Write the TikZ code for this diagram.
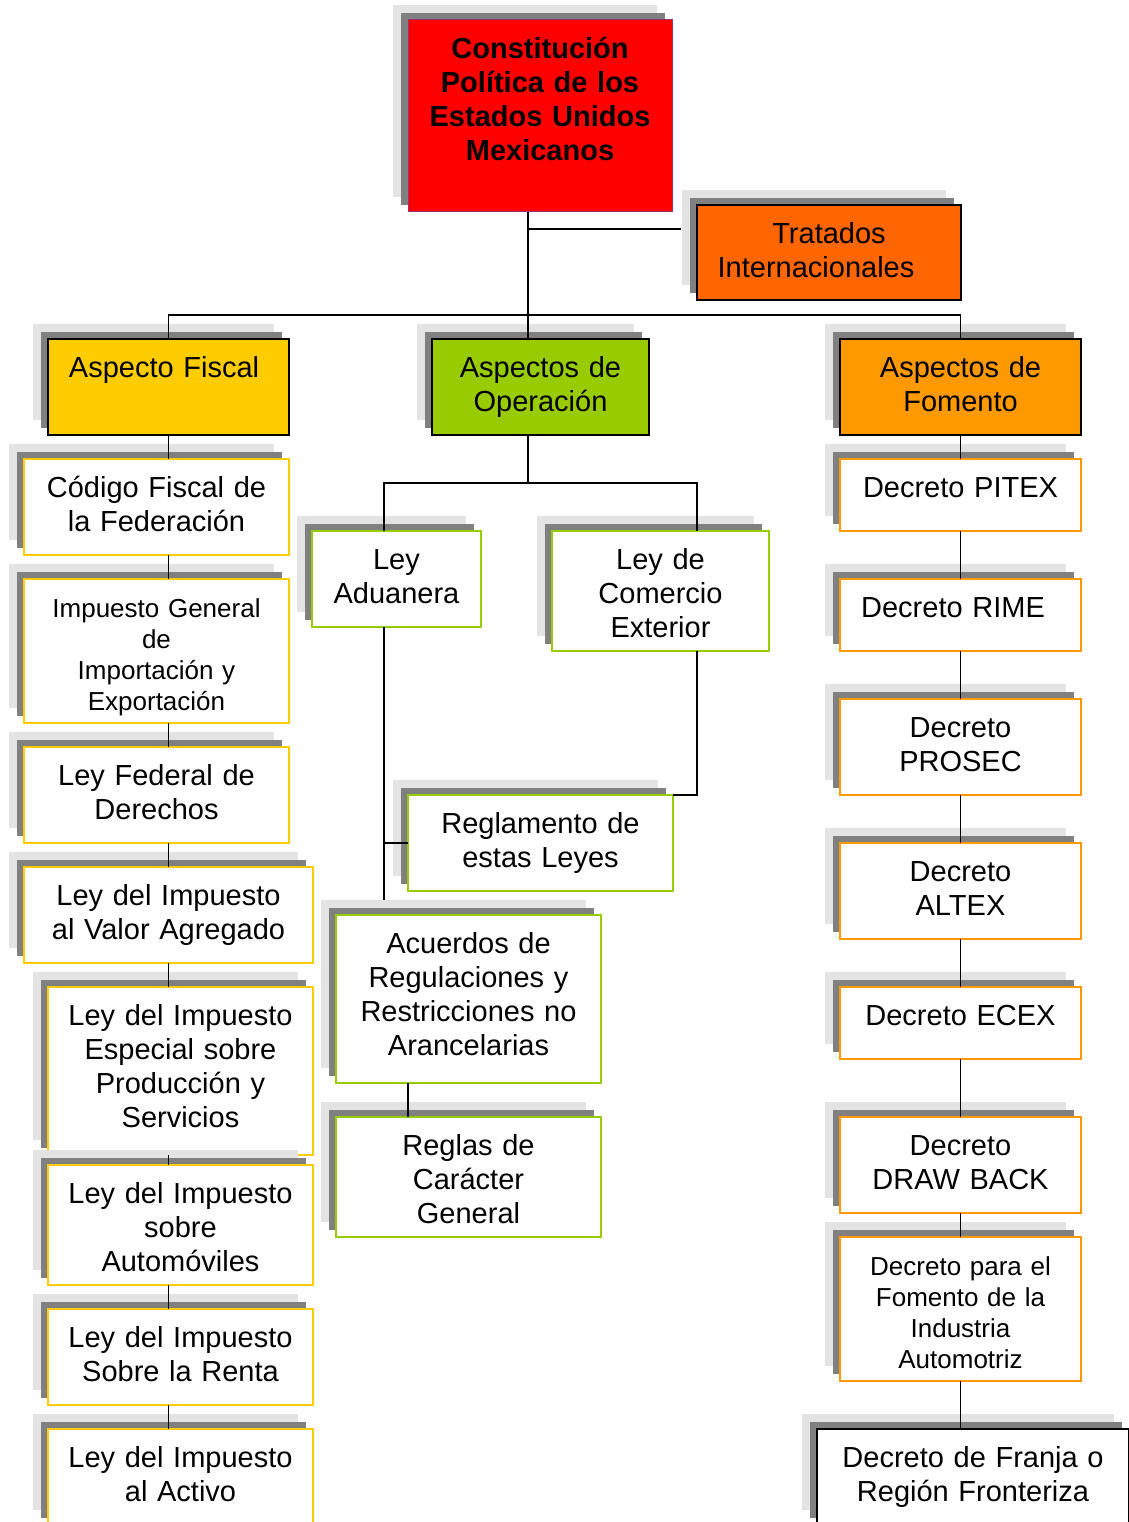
\documentclass[tikz,border=0pt]{standalone}
\usepackage{fontspec}
\setmainfont{Liberation Sans}
\usetikzlibrary{shadows}
\definecolor{shadowlight}{HTML}{E3E3E3}
\definecolor{shadowdark}{HTML}{808080}
\definecolor{constred}{HTML}{FF0000}
\definecolor{constedge}{HTML}{993366}
\definecolor{tratorange}{HTML}{FF6600}
\definecolor{fiscalyellow}{HTML}{FFCC00}
\definecolor{opgreen}{HTML}{99CC00}
\definecolor{fomorange}{HTML}{FF9900}
\def\bigtxt{\fontsize{29}{34}\selectfont}
\def\smalltxt{\fontsize{26}{31}\selectfont}
\tikzset{
  twoshadow/.style={general shadow={fill=shadowlight, shadow xshift=-15pt, shadow yshift=15pt},
                    general shadow={fill=shadowdark, shadow xshift=-7pt, shadow yshift=7pt}},
  lawbox/.style 2 args={draw, line width=1.5pt, fill=white, inner sep=0pt, outer sep=0pt,
                        align=center, text width=#1, text height=38.5pt, text depth=#2,
                        font=\bigtxt, twoshadow},
  fiscalleaf/.style={draw=fiscalyellow},
  opleaf/.style={draw=opgreen},
  fomleaf/.style={draw=fomorange},
  link/.style={line width=1.5pt, black}
}

\begin{document}
\begin{tikzpicture}[x=1pt, y=-1pt]
		%%%%% START %%%%%
		\useasboundingbox (0,0) rectangle (1128,1522);
		
		% top level
		\node[lawbox={264pt}{153.5pt}, fill=constred, draw=constedge, line width=1pt, font=\bigtxt\bfseries] (const) at (540,116)
			{Constitución\\Política de los\\Estados Unidos\\Mexicanos};
		\node[lawbox={264pt}{56.5pt}, fill=tratorange, draw=black] (trat) at (829,252.5)
			{Tratados\\\mbox{Internacionales\hspace{26pt}}};
		
		% second level
		\node[lawbox={241pt}{57.5pt}, fill=fiscalyellow, draw=black] (fiscal) at (168.5,387) {\mbox{Aspecto Fiscal\hspace{9pt}}};
		\node[lawbox={217pt}{57.5pt}, fill=opgreen, draw=black] (oper) at (540.5,387) {Aspectos de\\Operación};
		\node[lawbox={241pt}{57.5pt}, fill=fomorange, draw=black] (fomento) at (960.5,387) {Aspectos de\\Fomento};
		
		% fiscal column
		\node[lawbox={265pt}{57.5pt}, fiscalleaf] (codigo) at (156.5,507) {Código Fiscal de\\la Federación};
		\node[lawbox={265pt}{105.5pt}, fiscalleaf, font=\smalltxt] (igie) at (156.5,651) {Impuesto General\\de\\Importación y\\Exportación};
		\node[lawbox={265pt}{57.5pt}, fiscalleaf] (lfd) at (156.5,795) {Ley Federal de\\Derechos};
		\node[lawbox={289pt}{57.5pt}, fiscalleaf] (iva) at (168.5,915) {Ley del Impuesto\\al Valor Agregado};
		\node[lawbox={265pt}{129.5pt}, fiscalleaf] (ieps) at (180.5,1071) {Ley del Impuesto\\Especial sobre\\Producción y\\Servicios};
		\node[lawbox={265pt}{81.5pt}, fiscalleaf] (isan) at (180.5,1225) {Ley del Impuesto\\sobre\\Automóviles};
		\node[lawbox={265pt}{57.5pt}, fiscalleaf] (isr) at (180.5,1357) {Ley del Impuesto\\Sobre la Renta};
		\node[lawbox={265pt}{57.5pt}, fiscalleaf] (activo) at (180.5,1477) {Ley del Impuesto\\al Activo};
		
		% operacion column
		\node[lawbox={169pt}{57.5pt}, opleaf] (aduana) at (396.5,579) {Ley\\Aduanera};
		\node[lawbox={217pt}{81.5pt}, opleaf] (comext) at (660.5,591) {Ley de\\Comercio\\Exterior};
		\node[lawbox={265pt}{57.5pt}, opleaf] (reglam) at (540.5,843) {Reglamento de\\estas Leyes};
		\node[lawbox={265pt}{129.5pt}, opleaf] (acuerdos) at (468.5,999) {Acuerdos de\\Regulaciones y\\Restricciones no\\Arancelarias};
		\node[lawbox={265pt}{81.5pt}, opleaf] (reglas) at (468.5,1177) {Reglas de\\Carácter\\General};
		
		% fomento column
		\node[lawbox={241pt}{33.5pt}, fomleaf] (pitex) at (960.5,495) {Decreto PITEX};
		\node[lawbox={241pt}{33.5pt}, fomleaf] (rime) at (960.5,615) {\mbox{Decreto RIME\hspace{15pt}}};
		\node[lawbox={241pt}{57.5pt}, fomleaf] (prosec) at (960.5,747) {Decreto\\PROSEC};
		\node[lawbox={241pt}{57.5pt}, fomleaf] (altex) at (960.5,891) {Decreto\\ALTEX};
		\node[lawbox={241pt}{33.5pt}, fomleaf] (ecex) at (960.5,1023) {Decreto ECEX};
		\node[lawbox={241pt}{57.5pt}, fomleaf] (drawback) at (960.5,1165) {Decreto\\DRAW BACK};
		\node[lawbox={241pt}{105.5pt}, fomleaf, font=\smalltxt] (automotriz) at (960.5,1309) {Decreto para el\\Fomento de la\\Industria\\Automotriz};
		\node[lawbox={312pt}{57.5pt}, draw=black] (franja) at (973,1477) {Decreto de Franja o\\Región Fronteriza};
		
		% connectors
		\coordinate (trunk) at (528,315);
		\coordinate (tratjoin) at (681,229);
		\draw[link] (const.south -| trunk) -- (oper.north -| trunk);
		\draw[link] (fiscal.north) |- (trunk) -| (fomento.north);
		\draw[link] (tratjoin -| trunk) -- (tratjoin);
		
		\foreach \up/\down in {fiscal/codigo, codigo/igie, igie/lfd, lfd/iva, iva/ieps, ieps/isan, isan/isr, isr/activo}
			\draw[link] (fiscal.south |- \up.south) -- (fiscal.south |- \down.north);
		
		\foreach \up/\down in {fomento/pitex, pitex/rime, rime/prosec, prosec/altex, altex/ecex, ecex/drawback, drawback/automotriz, automotriz/franja}
			\draw[link] (fomento.south |- \up.south) -- (fomento.south |- \down.north);
		
		\coordinate (opbus) at (528,483);
		\coordinate (adline) at (384,483);
		\coordinate (celine) at (697,483);
		\draw[link] (oper.south -| opbus) -- (opbus);
		\draw[link] (adline |- aduana.north) -- (adline) -- (celine) -- (celine |- comext.north);
		\draw[link] (adline |- aduana.south) -- ([yshift=15pt]adline |- acuerdos.north);
		\draw[link] (adline |- reglam.west) -- (reglam.west);
		\draw[link] (celine |- comext.south) |- (reglam.north east);
		\draw[link] ([xshift=-60.5pt]acuerdos.south) -- ([xshift=-60.5pt]reglas.north);
		
		%%%%% END %%%%%
\end{tikzpicture}
\end{document}
